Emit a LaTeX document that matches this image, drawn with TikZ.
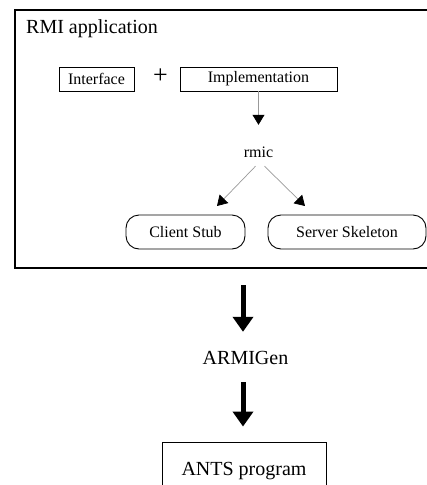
\documentclass[tikz,border=0pt]{standalone}
\usepackage{fontspec}
\setmainfont{Liberation Serif}
\usetikzlibrary{arrows.meta}
\tikzset{
  box/.style={draw=black, line width=0.9pt, inner sep=0pt, minimum height=24pt, font=\fontsize{16}{19}\selectfont},
  rbox/.style={draw=black, line width=0.9pt, rounded corners=13pt, inner sep=0pt, minimum height=34pt, font=\fontsize{16}{19}\selectfont},
  lbl/.style={inner sep=0pt, font=\fontsize{16}{19}\selectfont},
  thinarrow/.style={draw=black!40, line width=0.7pt, -{Triangle[width=12pt,length=10pt,color=black]}},
  bigarrow/.style={draw=black, line width=5pt, -{Triangle[width=20pt,length=15pt]}},
}
\begin{document}
\begin{tikzpicture}[x=1pt,y=-1pt]
\clip (0,0) rectangle (427,485);
\useasboundingbox (0,0) rectangle (427,485);
% outer application box
\node[draw=black, line width=1.6pt, inner sep=0pt, minimum width=425pt, minimum height=258pt] (app) at (227.5,139) {};
\node[inner sep=0pt, anchor=base west, font=\fontsize{20}{24}\selectfont] (title) at (26,33) {RMI application};
% top boxes
\node[box, minimum width=75pt] (iface) at (96.5,79) {Interface};
\node[inner sep=0pt, font=\fontsize{26}{30}\selectfont] (plus) at (160.5,76) {+};
\node[box, minimum width=157pt] (impl) at (258.5,79) {Implementation};
% rmic
\node[lbl, minimum height=28pt] (rmic) at (258.5,152) {rmic};
% outputs
\node[rbox, minimum width=119pt] (cs) at (185.5,232) {Client Stub};
\node[rbox, minimum width=158pt] (ss) at (347,232) {Server Skeleton};
\coordinate (csin) at (217,206);
\coordinate (ssin) at (305,206);
\draw[thinarrow] (impl.south) -- ([yshift=13pt]rmic.north);
\draw[thinarrow] ([xshift=-3pt]rmic.south) -- (csin);
\draw[thinarrow] ([xshift=6pt]rmic.south) -- (ssin);
% lower part
\coordinate (a1s) at (243,285);
\node[inner sep=0pt, minimum height=52pt, font=\fontsize{20}{24}\selectfont] (gen) at (245.5,358) {ARMIGen};
\node[draw=black, line width=0.9pt, inner sep=0pt, minimum width=164pt, minimum height=58pt, font=\fontsize{20}{24}\selectfont] (ants) at (244,471) {ANTS program};
\draw[bigarrow] (a1s) -- (a1s |- gen.north);
\draw[bigarrow, shorten >=15pt] ([yshift=2pt]a1s |- gen.south) -- (a1s |- ants.north);
\end{tikzpicture}
\end{document}
